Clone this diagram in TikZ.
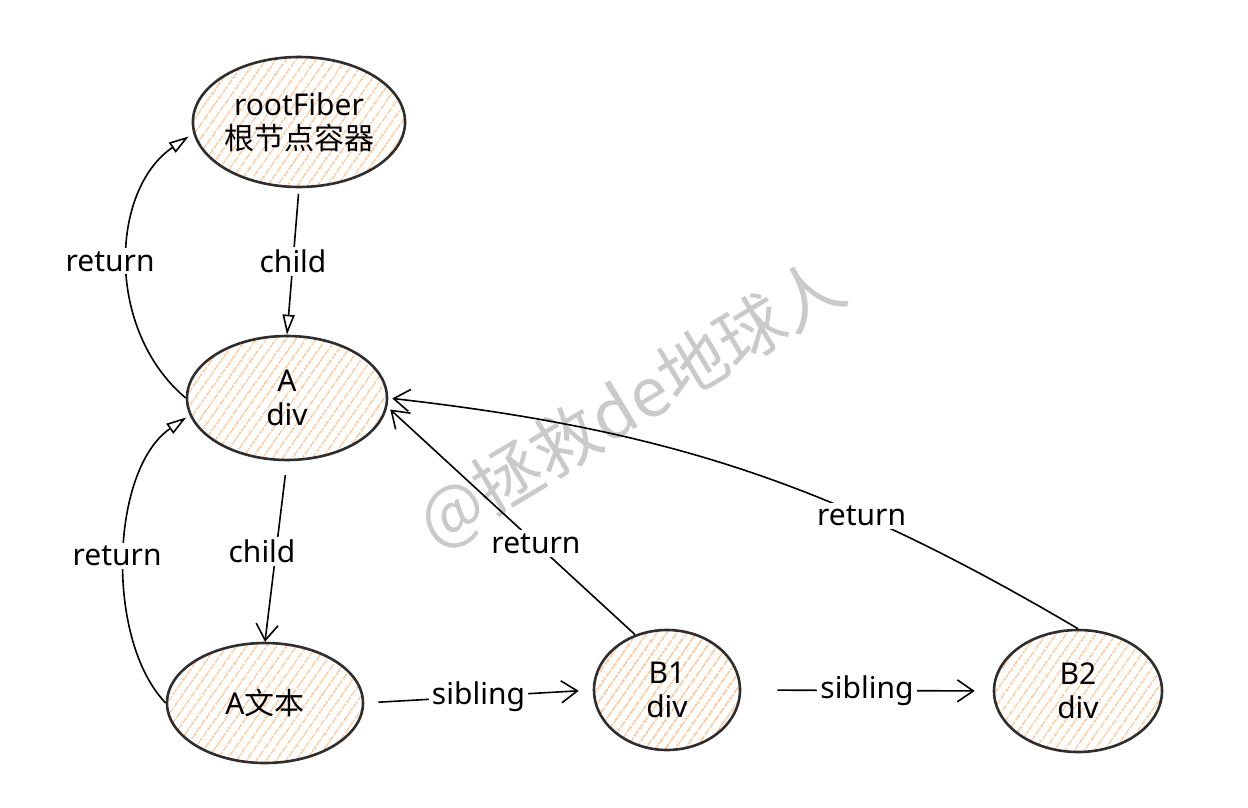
\documentclass[tikz,border=0pt]{standalone}
\usepackage{fontspec}
\setmainfont{Noto Sans}
\newfontfamily\cjk{Noto Sans CJK SC}
\usetikzlibrary{shapes.geometric,arrows.meta,patterns.meta}
\definecolor{hatch}{HTML}{FFC08C}
\definecolor{rim}{HTML}{2E2E2E}
\definecolor{wmgray}{HTML}{CACACA}
\begin{document}
\begin{tikzpicture}[x=0.5pt,y=-0.5pt,
  fiber/.style={ellipse,draw=rim,line width=1.3pt,inner sep=0pt,align=center,
    pattern={Lines[angle=55,distance=4pt,line width=0.8pt]},pattern color=hatch,
    font=\fontsize{15}{17}\selectfont},
  lbl/.style={fill=white,inner sep=1.5pt,font=\fontsize{15}{17}\selectfont},
  link/.style={line width=0.8pt},
  tri/.style={-{Triangle[open,length=10pt,width=6pt]}},
  barb/.style={-{Straight Barb[length=8pt,width=11pt]}}]
\useasboundingbox (0,0) rectangle (1248,808);
\node[text=wmgray,rotate=31,font=\cjk\fontsize{34}{34}\selectfont] (wm) at (632,405) {@拯救de地球人};
\node[fiber,minimum width=103pt,minimum height=65pt] (root) at (299,122) {rootFiber\\{\cjk 根节点容器}};
\node[fiber,minimum width=100pt,minimum height=62pt] (adiv) at (287,398) {A\\div};
\node[fiber,minimum width=98pt,minimum height=60pt] (atext) at (265,703) {A{\cjk 文本}};
\node[fiber,minimum width=73pt,minimum height=60pt] (bone) at (667,690) {B1\\div};
\node[fiber,minimum width=84pt,minimum height=61pt] (btwo) at (1078,691) {B2\\div};
\draw[link,tri,shorten <=3pt] (root.south) -- node[lbl] (c1) {child} (adiv.north);
\draw[link,barb,shorten <=7pt] (adiv.south) -- node[lbl,xshift=-7pt] (c2) {child} (atext.north);
\draw[link,tri,shorten >=3pt] (adiv.west) .. controls (105,330) and (110,190) .. (root.186) node[lbl,pos=0.5,xshift=-9pt] (r1) {return};
\draw[link,tri,shorten >=2pt] (atext.west) .. controls (105,640) and (110,470) .. (adiv.190) node[lbl,pos=0.5,xshift=-4pt] (r2) {return};
\draw[link,barb,shorten <=7pt,shorten >=7pt] (atext.east) -- node[lbl] (s1) {sibling} (bone.west);
\draw[link,barb,shorten <=18pt,shorten >=9pt] (bone.east) -- node[lbl] (s2) {sibling} (btwo.west);
\draw[link,barb,shorten >=2pt] (bone.120) -- node[lbl,pos=0.4] (r3) {return} (adiv.-5);
\draw[link,barb,shorten >=2pt] (btwo.north) to[bend right=12] node[lbl,pos=0.32] (r4) {return} (adiv.east);
\end{tikzpicture}
\end{document}
